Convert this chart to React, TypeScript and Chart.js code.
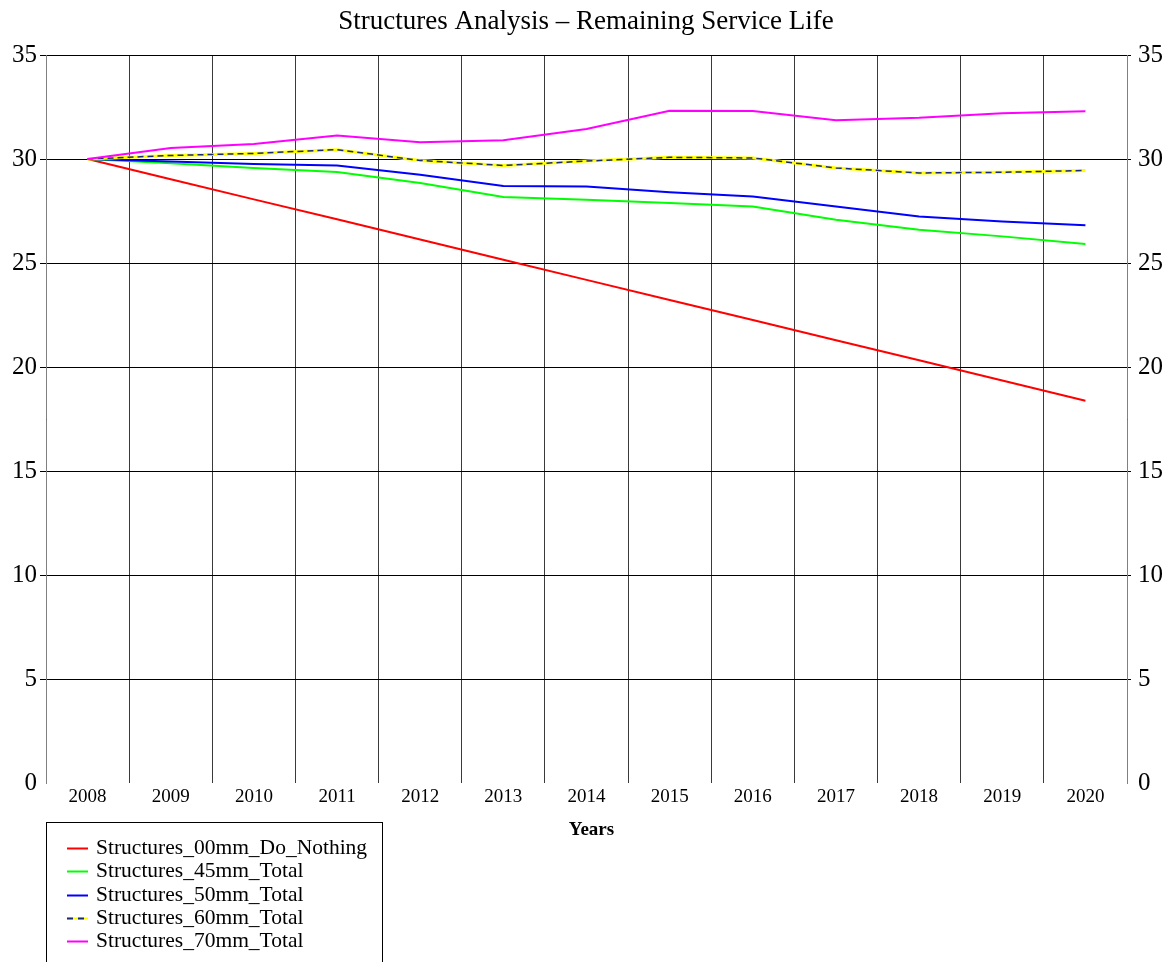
import React, { useEffect, useRef } from 'react';
import { Chart, registerables } from 'chart.js';

Chart.register(...registerables);

const FONT = "'Liberation Serif', 'Times New Roman', serif";

const chartTitle = 'Structures Analysis – Remaining Service Life';
const xTitle = 'Years';

const years = ['2008', '2009', '2010', '2011', '2012', '2013', '2014', '2015', '2016', '2017', '2018', '2019', '2020'];
const yTicks = [0, 5, 10, 15, 20, 25, 30, 35];

const doNothing00 = [30, 29.03, 28.06, 27.1, 26.13, 25.16, 24.19, 23.22, 22.26, 21.29, 20.32, 19.35, 18.38];
const total45 = [30, 29.8, 29.57, 29.37, 28.85, 28.17, 28.04, 27.88, 27.72, 27.08, 26.6, 26.28, 25.91];
const total50 = [30, 29.88, 29.76, 29.69, 29.24, 28.7, 28.68, 28.4, 28.2, 27.72, 27.24, 27.0, 26.81];
const total60 = [30, 30.17, 30.27, 30.45, 29.93, 29.69, 29.9, 30.08, 30.05, 29.57, 29.33, 29.36, 29.45];
const total70 = [30, 30.53, 30.72, 31.13, 30.8, 30.9, 31.44, 32.32, 32.31, 31.86, 31.98, 32.2, 32.3];

const seriesNames = [
  'Structures_00mm_Do_Nothing',
  'Structures_45mm_Total',
  'Structures_50mm_Total',
  'Structures_60mm_Total',
  'Structures_70mm_Total',
];

const RED = '#ff0000';
const GREEN = '#00ff00';
const BLUE = '#0000ff';
const YELLOW = '#ffff00';
const NAVY = '#1c2a70';
const MAGENTA = '#ff00ff';

const gridColor = (c: any) => (c.tick && c.tick.value === 0 ? 'rgba(0,0,0,0)' : '#000000');

const legendPlugin = {
  id: 'customLegend',
  afterDraw(chart: any) {
    const { ctx, chartArea } = chart;
    ctx.save();
    // x axis title
    ctx.fillStyle = '#000';
    ctx.font = `bold 19px ${FONT}`;
    ctx.textAlign = 'center';
    ctx.textBaseline = 'middle';
    ctx.fillText(xTitle, (chartArea.left + chartArea.right) / 2 + 5, chartArea.bottom + 47);

    // legend box
    const bx = chartArea.left + 0.5;
    const by = chartArea.bottom + 39.5;
    ctx.strokeStyle = '#000';
    ctx.lineWidth = 1;
    ctx.strokeRect(bx, by, 336, 200);

    const rowY0 = by + 25.5;
    const rowH = 23.3;
    const x1 = bx + 20.5;
    const x2 = bx + 41.5;
    ctx.font = `21.5px ${FONT}`;
    ctx.textAlign = 'left';
    ctx.textBaseline = 'middle';
    const colors = [RED, GREEN, BLUE, YELLOW, MAGENTA];
    seriesNames.forEach((name, i) => {
      const y = Math.round(rowY0 + i * rowH) + 0.5;
      ctx.setLineDash([]);
      ctx.lineWidth = 2;
      ctx.strokeStyle = colors[i];
      ctx.beginPath();
      ctx.moveTo(x1, y);
      ctx.lineTo(x2, y);
      ctx.stroke();
      if (i === 3) {
        ctx.strokeStyle = NAVY;
        ctx.setLineDash([6, 5]);
        ctx.beginPath();
        ctx.moveTo(x1, y);
        ctx.lineTo(x2, y);
        ctx.stroke();
        ctx.setLineDash([]);
      }
      ctx.fillStyle = '#000';
      ctx.fillText(name, bx + 49.5, y);
    });
    ctx.restore();
  },
};

export default function App() {
  const canvasRef = useRef<HTMLCanvasElement | null>(null);

  useEffect(() => {
    document.body.style.margin = '0';
    const canvas = canvasRef.current;
    if (!canvas) return;
    const lineDs = (label: string, data: number[], color: string, order: number, extra: any = {}) => ({
      label,
      data,
      borderColor: color,
      backgroundColor: color,
      borderWidth: 2,
      pointRadius: 0,
      pointHoverRadius: 0,
      tension: 0,
      fill: false,
      yAxisID: 'y',
      order,
      ...extra,
    });

    const chart = new Chart(canvas, {
      type: 'line',
      data: {
        labels: years,
        datasets: [
          lineDs(seriesNames[0], doNothing00, RED, 6),
          lineDs(seriesNames[1], total45, GREEN, 5),
          lineDs(seriesNames[2], total50, BLUE, 4),
          lineDs(seriesNames[3], total60, YELLOW, 3, { borderWidth: 3 }),
          lineDs(seriesNames[3] + ' dash', total60, NAVY, 2, { borderWidth: 1.5, borderDash: [6, 4] }),
          lineDs(seriesNames[4], total70, MAGENTA, 1),
        ],
      },
      options: {
        responsive: false,
        animation: false,
        devicePixelRatio: 1,
        layout: { padding: 0 },
        plugins: {
          legend: { display: false },
          tooltip: { enabled: false },
          title: {
            display: true,
            text: chartTitle,
            color: '#000',
            font: { family: FONT, size: 27, weight: 'normal' },
            padding: { top: 6, bottom: 16.6 },
          },
        },
        scales: {
          x: {
            type: 'category',
            offset: true,
            grid: { offset: true, drawTicks: false, color: '#3a3a3a', lineWidth: 1 },
            border: { display: false },
            ticks: {
              color: '#000',
              font: { family: FONT, size: 19 },
              padding: 3,
              maxRotation: 0,
              autoSkip: false,
            },
            afterFit: (s: any) => {
              s.height = 179;
            },
          },
          y: {
            position: 'left',
            min: 0,
            max: 35,
            afterBuildTicks: (s: any) => {
              s.ticks = yTicks.map((v) => ({ value: v }));
            },
            grid: { color: gridColor, tickLength: 6, lineWidth: 1 },
            border: { display: true, color: '#808080' },
            ticks: { color: '#000', font: { family: FONT, size: 25 }, padding: 3 },
            afterFit: (s: any) => {
              s.width = 46;
            },
          },
          y2: {
            position: 'right',
            min: 0,
            max: 35,
            afterBuildTicks: (s: any) => {
              s.ticks = yTicks.map((v) => ({ value: v }));
            },
            grid: { drawOnChartArea: false, color: gridColor, tickLength: 4, lineWidth: 1 },
            border: { display: true, color: '#808080' },
            ticks: { color: '#000', font: { family: FONT, size: 25 }, padding: 7 },
            afterFit: (s: any) => {
              s.width = 45;
            },
          },
        },
      },
      plugins: [legendPlugin],
    });
    return () => chart.destroy();
  }, []);

  return (
    <div style={{ position: 'absolute', left: 0, top: 0, width: 1172, height: 962 }}>
      <canvas ref={canvasRef} width={1172} height={962} style={{ display: 'block' }} />
    </div>
  );
}
